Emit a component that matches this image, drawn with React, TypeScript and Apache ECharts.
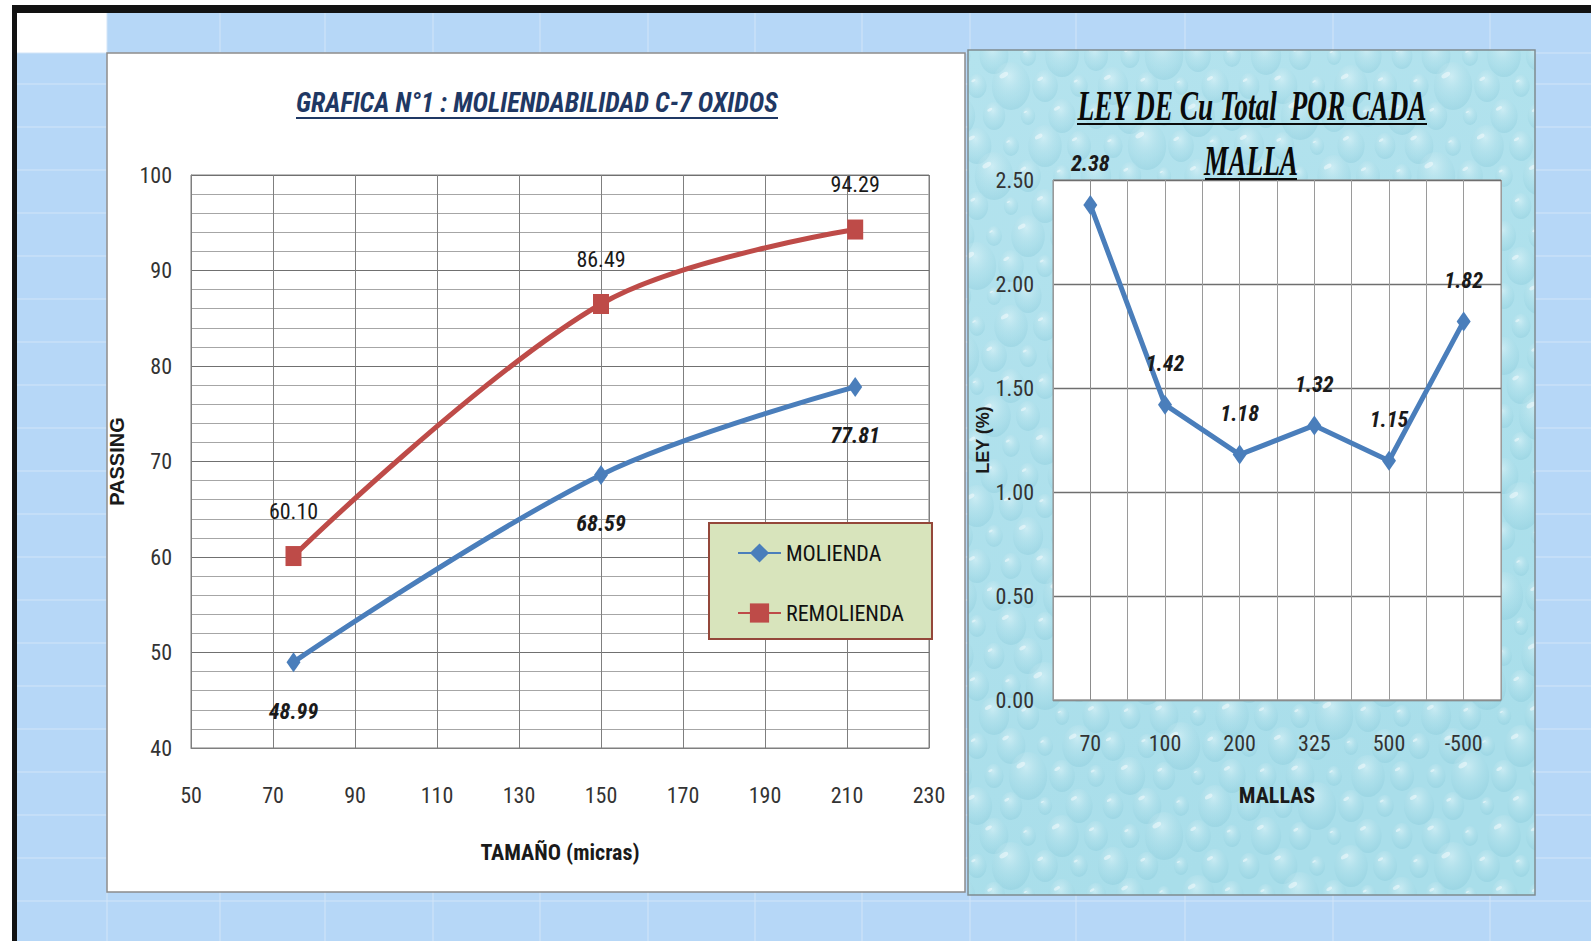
import React, { useEffect, useRef } from "react";
import * as echarts from "echarts";

// Grinding curve: passing (%) vs particle size (micras)
const TAMANO_MICRAS = [75, 150, 212];
const MOLIENDA = [48.99, 68.59, 77.81];
const REMOLIENDA = [60.1, 86.49, 94.29];
const TAMANO_TICKS = [50, 70, 90, 110, 130, 150, 170, 190, 210, 230];
const PASSING_TICKS = [40, 50, 60, 70, 80, 90, 100];

// Total Cu grade per mesh
const MALLAS = ["70", "100", "200", "325", "500", "-500"];
const LEY_CU = [2.38, 1.42, 1.18, 1.32, 1.15, 1.82];
const LEY_TICKS = [0, 0.5, 1, 1.5, 2, 2.5];

// Worksheet cell edges behind the charts
const SHEET_COLS = [107, 220, 325, 433, 540, 648, 755, 862, 970, 1076, 1185, 1333, 1490];
const SHEET_ROWS = [53, 84, 127, 170, 213, 256, 299, 342, 385, 428, 471, 514, 557, 600, 643, 686, 729, 772, 815, 858, 901];

const NARROW = '"Liberation Sans Narrow", "Arial Narrow", "Roboto Condensed", "Open Sans", sans-serif';
const SANS = '"Liberation Sans", Arial, sans-serif';
const SERIF = '"Liberation Serif", "Times New Roman", serif';

const BLUE = "#4A7EBB";
const RED = "#BE4B48";

function textWidth(text: string, font: string): number {
  const ctx = document.createElement("canvas").getContext("2d");
  if (!ctx) return text.length * 10;
  ctx.font = font;
  return ctx.measureText(text).width;
}

// Soft water-drop fill for the right chart area
function dropsTexture(w: number, h: number): string {
  const radii = [13, 18, 10, 21, 15, 12, 24, 16, 11, 19, 14, 9, 17];
  let s = `<svg xmlns="http://www.w3.org/2000/svg" width="${w}" height="${h}">`;
  s +=
    `<defs><linearGradient id="bg" x1="0" y1="0" x2="0.3" y2="1">` +
    `<stop offset="0" stop-color="#B4E3EE"/><stop offset="1" stop-color="#A9DEEA"/></linearGradient>` +
    `<radialGradient id="d" cx="0.45" cy="0.3" r="0.75">` +
    `<stop offset="0" stop-color="#E8F8FB" stop-opacity="0.5"/>` +
    `<stop offset="0.6" stop-color="#A6DAE6" stop-opacity="0.3"/>` +
    `<stop offset="1" stop-color="#7CC2D4" stop-opacity="0.35"/></radialGradient></defs>`;
  s += `<rect width="${w}" height="${h}" fill="url(#bg)"/>`;
  let k = 0;
  for (let row = 0, y = 6; y < h + 20; row++, y += 30) {
    for (let x = (row % 2) * 17 - 8; x < w + 20; x += 34) {
      const r = radii[k % radii.length];
      k++;
      const hx = x - r * 0.3;
      const hy = y - r * 0.45;
      s += `<ellipse cx="${x}" cy="${y}" rx="${r * 0.8}" ry="${r}" fill="url(#d)"/>`;
      s += `<ellipse cx="${hx}" cy="${hy}" rx="${r * 0.2}" ry="${r * 0.1}" fill="#fff" fill-opacity="0.45" transform="rotate(-30 ${hx} ${hy})"/>`;
    }
  }
  s += `</svg>`;
  return "data:image/svg+xml;charset=utf-8," + encodeURIComponent(s);
}

function buildOption(): any {
  const leftTitle = "GRAFICA N°1 : MOLIENDABILIDAD C-7 OXIDOS";
  const leftTitleFont = `italic bold 28px ${NARROW}`;
  const leftTitleScale = 482 / textWidth(leftTitle, leftTitleFont);

  const rightTitle1 = "LEY DE Cu Total  POR CADA";
  const rightTitle2 = "MALLA";
  const rightTitleFont = `italic bold 42px ${SERIF}`;
  const rightTitleScale = 350 / textWidth(rightTitle1, rightTitleFont);

  const sheet: any[] = [
    { type: "rect", z: -20, shape: { x: 17, y: 13, width: 1574, height: 928 }, style: { fill: "#B6D7F7" } },
    { type: "rect", z: -19, shape: { x: 17, y: 13, width: 90, height: 40 }, style: { fill: "#FFFFFF" } },
  ];
  SHEET_COLS.forEach((x) =>
    sheet.push({ type: "line", z: -18, shape: { x1: x, y1: 13, x2: x, y2: 941 }, style: { stroke: "#D2E5F8", lineWidth: 1 } })
  );
  SHEET_ROWS.forEach((y) =>
    sheet.push({ type: "line", z: -18, shape: { x1: 17, y1: y, x2: 1591, y2: y }, style: { stroke: "#D2E5F8", lineWidth: 1 } })
  );

  const frame: any[] = [
    { type: "rect", z: -10, shape: { x: 12, y: 5, width: 1579, height: 8 }, style: { fill: "#121212" } },
    { type: "rect", z: -10, shape: { x: 12, y: 5, width: 5, height: 936 }, style: { fill: "#121212" } },
    // left chart area
    { type: "rect", z: -9, shape: { x: 107, y: 53, width: 858, height: 839 }, style: { fill: "#FFFFFF", stroke: "#8C8C8C", lineWidth: 1.5 } },
    // right chart area with water-drop fill
    { type: "image", z: -9, style: { image: dropsTexture(567, 845), x: 968, y: 50, width: 567, height: 845 } },
    { type: "rect", z: -8, shape: { x: 968, y: 50, width: 567, height: 845 }, style: { fill: "none", stroke: "#7F8C90", lineWidth: 1.5 } },
  ];

  const titles: any[] = [
    {
      type: "text", z: 10, x: 537, y: 103, scaleX: leftTitleScale,
      style: { text: leftTitle, font: leftTitleFont, fill: "#1F3864", align: "center", verticalAlign: "middle" },
    },
    { type: "line", z: 10, shape: { x1: 296, y1: 118, x2: 778, y2: 118 }, style: { stroke: "#1F3864", lineWidth: 2 } },
    {
      type: "text", z: 10, x: 1252, y: 106, scaleX: rightTitleScale,
      style: { text: rightTitle1, font: rightTitleFont, fill: "#0A0A0A", align: "center", verticalAlign: "middle" },
    },
    { type: "line", z: 10, shape: { x1: 1077, y1: 124, x2: 1427, y2: 124 }, style: { stroke: "#0A0A0A", lineWidth: 2 } },
    {
      type: "text", z: 10, x: 1251, y: 161, scaleX: rightTitleScale,
      style: { text: rightTitle2, font: rightTitleFont, fill: "#0A0A0A", align: "center", verticalAlign: "middle" },
    },
    { type: "line", z: 10, shape: { x1: 1205, y1: 179, x2: 1297, y2: 179 }, style: { stroke: "#0A0A0A", lineWidth: 2 } },
  ];

  const tickLabel = { fontFamily: NARROW, fontSize: 22, color: "#333333" };
  const dataLabel = { fontFamily: NARROW, fontSize: 22, color: "#1A1A1A" };

  return {
    animation: false,
    backgroundColor: "#FFFFFF",
    graphic: { elements: [...sheet, ...frame, ...titles] },
    grid: [
      { left: 191, top: 175, width: 738, height: 573, show: true, backgroundColor: "#FFFFFF", borderColor: "#7F7F7F", borderWidth: 1 },
      { left: 1053, top: 180, width: 448, height: 520, show: true, backgroundColor: "#FFFFFF", borderColor: "#8C8C8C", borderWidth: 1 },
    ],
    xAxis: [
      {
        gridIndex: 0, type: "value",
        min: TAMANO_TICKS[0], max: TAMANO_TICKS[TAMANO_TICKS.length - 1], interval: TAMANO_TICKS[1] - TAMANO_TICKS[0],
        axisLine: { show: true, lineStyle: { color: "#7F7F7F" } },
        axisTick: { show: false },
        axisLabel: { ...tickLabel, margin: 36 },
        splitLine: { show: true, lineStyle: { color: "#7F7F7F", width: 1 } },
        name: "TAMAÑO (micras)", nameLocation: "middle", nameGap: 93,
        nameTextStyle: { fontFamily: NARROW, fontSize: 22, fontWeight: "bold", color: "#1A1A1A" },
      },
      {
        gridIndex: 1, type: "value", min: -0.5, max: MALLAS.length - 0.5, interval: 0.5,
        axisLine: { show: true, lineStyle: { color: "#8C8C8C" } },
        axisTick: { show: false },
        axisLabel: {
          ...tickLabel, margin: 32, showMinLabel: true, showMaxLabel: true,
          formatter: (v: number) => (Number.isInteger(v) && v >= 0 && v < MALLAS.length ? MALLAS[v] : ""),
        },
        splitLine: { show: true, lineStyle: { color: "#9A9A9A", width: 1 } },
        name: "MALLAS", nameLocation: "middle", nameGap: 84,
        nameTextStyle: { fontFamily: NARROW, fontSize: 22, fontWeight: "bold", color: "#1A1A1A" },
      },
    ],
    yAxis: [
      {
        gridIndex: 0, type: "value",
        min: PASSING_TICKS[0], max: PASSING_TICKS[PASSING_TICKS.length - 1], interval: PASSING_TICKS[1] - PASSING_TICKS[0],
        axisLine: { show: true, lineStyle: { color: "#7F7F7F" } },
        axisTick: { show: false },
        axisLabel: { ...tickLabel, margin: 19 },
        splitLine: { show: true, lineStyle: { color: "#707070", width: 1.2 } },
        minorTick: { show: false, splitNumber: 5 },
        minorSplitLine: { show: true, lineStyle: { color: "#A6A6A6", width: 1 } },
        name: "PASSING", nameLocation: "middle", nameGap: 64,
        nameTextStyle: { fontFamily: SANS, fontSize: 20, fontWeight: "bold", color: "#1A1A1A" },
      },
      {
        gridIndex: 1, type: "value",
        min: LEY_TICKS[0], max: LEY_TICKS[LEY_TICKS.length - 1], interval: LEY_TICKS[1] - LEY_TICKS[0],
        axisLine: { show: true, lineStyle: { color: "#8C8C8C" } },
        axisTick: { show: false },
        axisLabel: { ...tickLabel, margin: 19, formatter: (v: number) => v.toFixed(2) },
        splitLine: { show: true, lineStyle: { color: "#6F6F6F", width: 1.3 } },
        name: "LEY (%)", nameLocation: "middle", nameGap: 60,
        nameTextStyle: { fontFamily: SANS, fontSize: 18, fontWeight: "bold", color: "#1A1A1A" },
      },
    ],
    legend: {
      data: ["MOLIENDA", "REMOLIENDA"],
      orient: "vertical", left: 709, top: 523,
      padding: [19, 28, 15, 28], itemGap: 38, itemWidth: 43, itemHeight: 24,
      backgroundColor: "#D8E4BC", borderColor: "#94473A", borderWidth: 2,
      selectedMode: false,
      textStyle: { fontFamily: NARROW, fontSize: 22, color: "#111111", width: 114 },
    },
    series: [
      {
        name: "MOLIENDA", type: "line", xAxisIndex: 0, yAxisIndex: 0,
        data: TAMANO_MICRAS.map((x, i) => [x, MOLIENDA[i]]),
        smooth: 0.35,
        symbol: "diamond", symbolSize: [14, 20],
        lineStyle: { color: BLUE, width: 5 },
        itemStyle: { color: BLUE },
        label: {
          show: true, position: "bottom", distance: 28, ...dataLabel,
          fontStyle: "italic", fontWeight: "bold",
          formatter: (p: any) => p.value[1].toFixed(2),
        },
        z: 5,
      },
      {
        name: "REMOLIENDA", type: "line", xAxisIndex: 0, yAxisIndex: 0,
        data: TAMANO_MICRAS.map((x, i) => [x, REMOLIENDA[i]]),
        smooth: 0.35,
        symbol: "rect", symbolSize: [16, 20],
        lineStyle: { color: RED, width: 5 },
        itemStyle: { color: RED },
        label: {
          show: true, position: "top", distance: 24, ...dataLabel,
          formatter: (p: any) => p.value[1].toFixed(2),
        },
        z: 5,
      },
      {
        name: "LEY DE Cu", type: "line", xAxisIndex: 1, yAxisIndex: 1,
        data: LEY_CU.map((v, i) => [i, v]),
        symbol: "diamond", symbolSize: [14, 20],
        lineStyle: { color: BLUE, width: 5 },
        itemStyle: { color: BLUE },
        label: {
          show: true, position: "top", distance: 20, ...dataLabel,
          fontStyle: "italic", fontWeight: "bold",
          formatter: (p: any) => p.value[1].toFixed(2),
        },
        z: 5,
      },
    ],
  };
}

export default function App() {
  const ref = useRef<HTMLDivElement>(null);
  useEffect(() => {
    document.body.style.margin = "0";
    const chart = echarts.init(ref.current!, undefined, { renderer: "svg" });
    chart.setOption(buildOption());
    return () => chart.dispose();
  }, []);
  return <div ref={ref} style={{ width: 1591, height: 941 }} />;
}
